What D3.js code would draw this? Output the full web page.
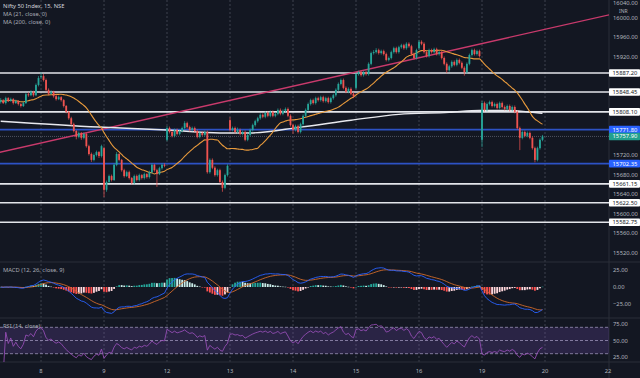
<!DOCTYPE html>
<html>
<head>
<meta charset="utf-8">
<script src="https://cdnjs.cloudflare.com/ajax/libs/d3/7.8.5/d3.min.js"></script>
<style>
  body { margin: 0; background: #131722; overflow: hidden; }
  svg { display: block; }
  text { font-family: "Noto Sans", sans-serif; }
</style>
</head>
<body>
<div id="chart"></div>
<script>
// ---- data (15 min bars) ----
const dayLabels = ["8", "9", "12", "13", "14", "15", "16", "19", "20", "22"];
const dayStarts = [16, 41, 66, 91, 116, 141, 166, 191, 216, 241];

// first bar of each session and its opening price (gaps)
const sessionStart = [0, 16, 41, 66, 91, 116, 141, 166, 191];
const sessionOpens = [15828, 15879, 15734, 15751, 15791, 15781, 15857, 15938, 15751];

const closes = [
  // 7 (partial)
  15832,15826,15836,15830,15834,15826,15830,15824,15820,15826,15844,15842,15849,15842,15863,15877,
  // 8
  15881,15873,15853,15845,15849,15840,15834,15838,15832,15820,15808,15795,15783,15769,15757,15765,15755,15763,15738,15722,15710,15720,15726,15718,15738,
  // 9
  15649,15665,15677,15669,15700,15722,15710,15689,15677,15685,15673,15663,15677,15669,15679,15673,15681,15675,15685,15700,15689,15681,15693,15700,15698,
  // 12
  15775,15767,15759,15771,15763,15769,15775,15785,15777,15771,15775,15769,15757,15765,15761,15767,15685,15710,15694,15679,15689,15665,15653,15679,15698,
  // 13
  15771,15775,15767,15771,15763,15767,15751,15761,15771,15781,15789,15795,15802,15798,15806,15800,15808,15800,15804,15812,15804,15810,15814,15800,15781,
  // 14
  15771,15779,15767,15783,15800,15812,15824,15832,15826,15836,15832,15838,15830,15836,15828,15836,15842,15853,15865,15873,15857,15849,15855,15845,15840,
  // 15
  15885,15889,15883,15889,15885,15906,15928,15930,15934,15928,15932,15926,15914,15918,15930,15938,15930,15940,15944,15938,15947,15942,15926,15918,15934,
  // 16
  15951,15947,15930,15922,15934,15930,15936,15926,15930,15918,15906,15893,15901,15910,15904,15914,15908,15898,15889,15906,15924,15934,15926,15932,15922,
  // 19
  15826,15812,15824,15828,15820,15824,15816,15826,15818,15814,15820,15812,15818,15808,15775,15755,15767,15759,15765,15755,15734,15710,15734,15751,15757.9
];

const highs = [
  15836,15834,15839,15838,15837,15836,15833,15832,15826,15829,15847,15848,15852,15851,15866,15881,
  15889,15885,15876,15856,15852,15851,15843,15841,15840,15834,15822,15810,15798,15786,15771,15768,15767,15766,15765,15741,15725,15723,15729,15728,15741,
  15737,15668,15680,15680,15703,15726,15724,15712,15692,15688,15688,15675,15680,15680,15682,15681,15684,15683,15688,15703,15702,15692,15696,15703,15703,
  15779,15778,15770,15774,15774,15772,15778,15789,15788,15780,15778,15778,15772,15768,15768,15770,15770,15713,15713,15697,15692,15692,15668,15682,15701,
  15797,15778,15778,15776,15774,15770,15770,15764,15774,15784,15792,15798,15805,15805,15809,15809,15811,15811,15807,15815,15815,15813,15817,15817,15803,
  15784,15782,15782,15786,15803,15815,15827,15835,15835,15839,15839,15841,15841,15839,15839,15839,15845,15856,15868,15876,15876,15860,15858,15858,15848,
  15888,15892,15892,15892,15892,15909,15931,15934,15938,15937,15935,15935,15929,15921,15933,15941,15941,15943,15947,15947,15950,15950,15945,15929,15937,
  15955,15954,15950,15933,15937,15937,15939,15939,15933,15933,15921,15909,15904,15913,15913,15917,15917,15911,15901,15909,15927,15937,15937,15935,15935,
  15830,15829,15827,15831,15831,15827,15827,15829,15829,15821,15823,15823,15821,15821,15811,15778,15770,15770,15768,15768,15758,15737,15737,15754,15761
];

const lows = [
  15825,15824,15823,15828,15829,15823,15824,15821,15817,15818,15824,15839,15840,15839,15840,15860,
  15875,15870,15850,15842,15843,15837,15831,15832,15829,15817,15805,15792,15780,15766,15752,15754,15751,15752,15735,15719,15706,15707,15717,15714,15715,
  15634,15645,15662,15666,15667,15697,15707,15686,15674,15675,15670,15660,15660,15666,15666,15670,15670,15672,15672,15682,15686,15655,15679,15690,15695,
  15748,15764,15756,15756,15760,15760,15766,15772,15774,15768,15768,15766,15754,15754,15758,15758,15682,15682,15691,15676,15676,15662,15645,15650,15676,
  15768,15768,15764,15764,15760,15760,15748,15748,15758,15768,15778,15786,15792,15795,15795,15797,15797,15797,15797,15801,15801,15801,15807,15797,15778,
  15763,15768,15764,15764,15780,15797,15809,15821,15823,15823,15829,15829,15827,15827,15825,15825,15833,15839,15850,15862,15854,15846,15846,15842,15836,
  15854,15882,15880,15880,15882,15882,15903,15925,15927,15925,15925,15923,15911,15911,15915,15927,15927,15927,15937,15935,15935,15939,15923,15915,15915,
  15935,15944,15927,15919,15919,15927,15927,15923,15923,15915,15903,15887,15890,15898,15901,15901,15905,15895,15882,15886,15903,15921,15923,15923,15919,
  15736,15809,15809,15821,15817,15817,15813,15813,15815,15811,15811,15809,15809,15805,15772,15730,15752,15756,15756,15752,15731,15705,15707,15731,15748
];

// MA 200 read at a few bars (no history before the first bar)
const ma200Bars   = [0, 39, 66, 87, 99, 119, 139, 158, 178, 190, 202, 211, 215];
const ma200Values = [15789, 15777, 15771, 15765, 15765, 15777, 15791, 15803, 15807, 15811, 15811, 15807, 15805];

// drawn levels
const whiteLevels = [15887.20, 15848.45, 15808.10, 15661.15, 15622.50, 15582.75];
const blueLevels  = [15771.80, 15702.35];
const lastPrice   = 15757.90;

// trend line anchors (bar, price)
const trendBars   = [0, 200];
const trendPrices = [15726, 15958];

const priceTicks = [16040, 16000, 15960, 15920, 15880, 15840, 15800, 15760, 15720, 15680, 15640, 15600, 15560, 15520];
const macdTicks  = [25, 0, -25];
const rsiTicks   = [75, 50, 25];
const rsiLevels  = [70, 50, 30];

// ---- layout ----
const W = 640, H = 378, axisX = 609;
const mainBottom = 262, macdBottom = 318, rsiBottom = 362;
const up = "#26a69a", down = "#ef5350";
const fmt = d3.format(".2f");

const svg = d3.select("#chart").append("svg").attr("width", W).attr("height", H);
svg.append("rect").attr("width", W).attr("height", H).attr("fill", "#131722");

const defs = svg.append("defs");
function clip(id, y0, y1) {
  defs.append("clipPath").attr("id", id)
    .append("rect").attr("x", 0).attr("y", y0).attr("width", axisX).attr("height", y1 - y0);
}
clip("cMain", 0, mainBottom);
clip("cMacd", mainBottom, macdBottom);
clip("cRsi", macdBottom, rsiBottom);

const x = d3.scaleLinear().domain([0, 241]).range([0.7, 608]);
const y = d3.scaleLinear().domain([15520, 16000]).range([253, 17.8]);
const yMacd = d3.scaleLinear().domain([-25, 25]).range([304, 270]);
const yRsi = d3.scaleLinear().domain([25, 75]).range([357, 324]);

const bars = closes.map((c, i) => {
  const k = sessionStart.indexOf(i);
  const o = k >= 0 ? sessionOpens[k] : closes[i - 1];
  return { i, o, c, h: Math.max(highs[i], o, c), l: Math.min(lows[i], o, c) };
});

// vertical day grid
svg.append("g").selectAll("line").data(dayStarts.slice(0, -1)).join("line")
  .attr("x1", d => x(d)).attr("x2", d => x(d))
  .attr("y1", 0).attr("y2", rsiBottom)
  .attr("stroke", "#4a4e5a").attr("stroke-width", 0.8).attr("stroke-dasharray", "2,2");

// pane separators + price axis border
svg.append("g").selectAll("line").data([mainBottom, macdBottom, rsiBottom]).join("line")
  .attr("x1", 0).attr("x2", W).attr("y1", d => d).attr("y2", d => d)
  .attr("stroke", "#2a2e39").attr("stroke-width", 1);
svg.append("line").attr("x1", axisX).attr("x2", axisX).attr("y1", 0).attr("y2", H)
  .attr("stroke", "#2a2e39");

// ---- main pane ----
const main = svg.append("g").attr("clip-path", "url(#cMain)");

main.selectAll(".wl").data(whiteLevels).join("line")
  .attr("x1", 0).attr("x2", axisX).attr("y1", d => y(d)).attr("y2", d => y(d))
  .attr("stroke", "#e3e5ea").attr("stroke-width", 1.6);
main.selectAll(".bl").data(blueLevels).join("line")
  .attr("x1", 0).attr("x2", axisX).attr("y1", d => y(d)).attr("y2", d => y(d))
  .attr("stroke", "#2d52c4").attr("stroke-width", 1.8);
main.append("line").attr("x1", 0).attr("x2", axisX)
  .attr("y1", y(lastPrice)).attr("y2", y(lastPrice))
  .attr("stroke", "#5d6170").attr("stroke-width", 0.8).attr("stroke-dasharray", "1,1");

// trend line, extended across the pane
const slope = (trendPrices[1] - trendPrices[0]) / (trendBars[1] - trendBars[0]);
main.append("line")
  .attr("x1", x(-2)).attr("y1", y(trendPrices[0] - 2 * slope))
  .attr("x2", x(250)).attr("y2", y(trendPrices[0] + 250 * slope))
  .attr("stroke", "#c93a6c").attr("stroke-width", 1.4);

// MA 200
main.append("path")
  .datum(ma200Bars.map((b, k) => [b, ma200Values[k]]))
  .attr("fill", "none").attr("stroke", "#e8e9ee").attr("stroke-width", 1.4)
  .attr("d", d3.line().x(d => x(d[0])).y(d => y(d[1])).curve(d3.curveMonotoneX));

// MA 21 from closes
const ma21 = closes.map((c, i) => {
  const w = closes.slice(Math.max(0, i - 20), i + 1);
  return [i, d3.mean(w)];
});
main.append("path").datum(ma21)
  .attr("fill", "none").attr("stroke", "#e89a3c").attr("stroke-width", 1.1)
  .attr("d", d3.line().x(d => x(d[0])).y(d => y(d[1])).curve(d3.curveMonotoneX));

// candles
const cg = main.append("g");
cg.selectAll("line").data(bars).join("line")
  .attr("x1", d => x(d.i)).attr("x2", d => x(d.i))
  .attr("y1", d => y(d.h)).attr("y2", d => y(d.l))
  .attr("stroke", d => d.c >= d.o ? up : down).attr("stroke-width", 0.7);
cg.selectAll("rect").data(bars).join("rect")
  .attr("x", d => x(d.i) - 0.9).attr("width", 1.8)
  .attr("y", d => y(Math.max(d.o, d.c)))
  .attr("height", d => Math.max(0.8, Math.abs(y(d.o) - y(d.c))))
  .attr("fill", d => d.c >= d.o ? up : down);

// ---- MACD (12, 26, 9) ----
function ema(src, n) {
  const a = 2 / (n + 1);
  let prev = src[0];
  return src.map((v, i) => (prev = i === 0 ? v : a * v + (1 - a) * prev));
}
const e12 = ema(closes, 12), e26 = ema(closes, 26);
const macd = closes.map((c, i) => e12[i] - e26[i]);
const signal = ema(macd, 9);
const hist = macd.map((m, i) => m - signal[i]);

const mg = svg.append("g").attr("clip-path", "url(#cMacd)");
mg.selectAll("rect").data(hist).join("rect")
  .attr("x", (d, i) => x(i) - 0.9).attr("width", 1.8)
  .attr("y", d => Math.min(yMacd(0), yMacd(d)))
  .attr("height", d => Math.max(0.5, Math.abs(yMacd(d) - yMacd(0))))
  .attr("fill", (d, i) => {
    const p = i > 0 ? hist[i - 1] : d;
    if (d >= 0) return d >= p ? "#26a69a" : "#c9ece8";
    return d < p ? "#ff5252" : "#ffd7dc";
  });
const mline = d3.line().x((d, i) => x(i)).y(d => yMacd(d));
mg.append("path").datum(signal).attr("fill", "none")
  .attr("stroke", "#d06a2a").attr("stroke-width", 0.9).attr("d", mline);
mg.append("path").datum(macd).attr("fill", "none")
  .attr("stroke", "#2962ff").attr("stroke-width", 0.9).attr("d", mline);

// ---- RSI (14) ----
const rsi = [];
let avgG = 0, avgL = 0;
closes.forEach((c, i) => {
  if (i === 0) { rsi.push(null); return; }
  const ch = c - closes[i - 1];
  const g = Math.max(ch, 0), l = Math.max(-ch, 0);
  const n = Math.min(i, 14);
  avgG = (avgG * (n - 1) + g) / n;
  avgL = (avgL * (n - 1) + l) / n;
  rsi.push(avgL === 0 ? 100 : 100 - 100 / (1 + avgG / avgL));
});

const rg = svg.append("g").attr("clip-path", "url(#cRsi)");
rg.append("rect").attr("x", 0).attr("width", axisX)
  .attr("y", yRsi(70)).attr("height", yRsi(30) - yRsi(70))
  .attr("fill", "#7e57c2").attr("opacity", 0.22);
rg.selectAll("line").data(rsiLevels).join("line")
  .attr("x1", 0).attr("x2", axisX).attr("y1", d => yRsi(d)).attr("y2", d => yRsi(d))
  .attr("stroke", "#9a90b8").attr("stroke-width", 0.8).attr("stroke-dasharray", "3,2");
rg.append("path").datum(rsi.map((v, i) => [i, v]).filter(d => d[1] !== null))
  .attr("fill", "none").attr("stroke", "#a052c0").attr("stroke-width", 0.8)
  .attr("d", d3.line().x(d => x(d[0])).y(d => yRsi(d[1])));

// ---- right axis labels ----
const tagged = whiteLevels.concat(blueLevels, [lastPrice]);
const ax = svg.append("g").attr("font-size", 5.8).attr("fill", "#b2b5be");
ax.selectAll(".pt").data(priceTicks.filter(t => tagged.every(v => Math.abs(y(v) - y(t)) > 6.5)))
  .join("text").attr("x", 613).attr("y", d => Math.max(y(d), 3.2)).attr("dy", "0.35em").text(d => fmt(d));
ax.append("text").attr("x", 619).attr("y", 11.2).attr("dy", "0.35em")
  .attr("font-size", 5).text("INR");
ax.selectAll(".mt").data(macdTicks).join("text")
  .attr("x", 613).attr("y", d => yMacd(d)).attr("dy", "0.35em").text(d => fmt(d));
ax.selectAll(".rt").data(rsiTicks).join("text")
  .attr("x", 613).attr("y", d => yRsi(d)).attr("dy", "0.35em").text(d => fmt(d));

function tag(v, fill, color) {
  const g = svg.append("g");
  g.append("rect").attr("x", axisX).attr("y", y(v) - 3.8).attr("width", 31).attr("height", 7.6)
    .attr("fill", fill).attr("rx", 0.8);
  g.append("text").attr("x", 612.5).attr("y", y(v)).attr("dy", "0.35em")
    .attr("font-size", 5.8).attr("fill", color).text(fmt(v));
}
whiteLevels.forEach(v => tag(v, "#ffffff", "#131722"));
blueLevels.forEach(v => tag(v, "#2962ff", "#ffffff"));
tag(lastPrice, "#22a08f", "#ffffff");

// ---- time axis ----
svg.append("g").selectAll("text").data(dayStarts).join("text")
  .attr("x", d => x(d)).attr("y", 371).attr("dy", "0.35em")
  .attr("text-anchor", "middle").attr("font-size", 5.8).attr("fill", "#b2b5be")
  .text((d, i) => dayLabels[i]);

// ---- legends ----
const lg = svg.append("g").attr("font-size", 5.8);
lg.append("text").attr("x", 3).attr("y", 7.5).attr("fill", "#d1d4dc").text("Nifty 50 Index, 15, NSE");
lg.append("text").attr("x", 3).attr("y", 15.5).attr("fill", "#a9acb6").text("MA (21, close, 0)");
lg.append("text").attr("x", 3).attr("y", 23.5).attr("fill", "#a9acb6").text("MA (200, close, 0)");
lg.append("text").attr("x", 3).attr("y", 272).attr("fill", "#a9acb6").text("MACD (12, 26, close, 9)");
lg.append("text").attr("x", 3).attr("y", 328).attr("fill", "#a9acb6").text("RSI (14, close)");
</script>
</body>
</html>
